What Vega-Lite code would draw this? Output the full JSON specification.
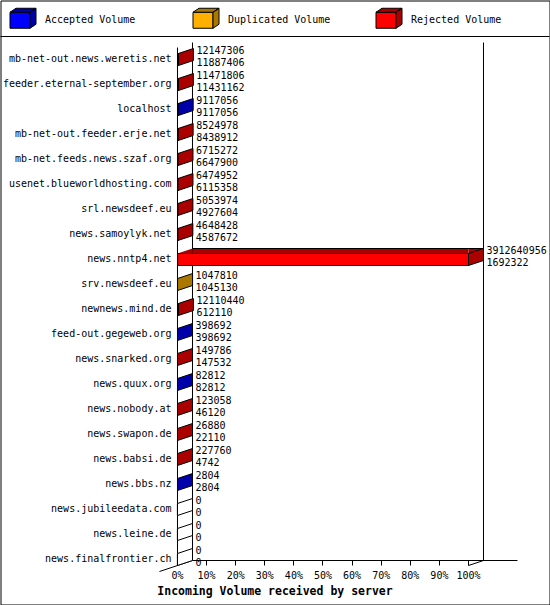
{
  "$schema": "https://vega.github.io/schema/vega-lite/v6.json",
  "width": 549,
  "height": 604,
  "padding": 0.5,
  "autosize": {"type": "none"},
  "background": "white",
  "config": {
    "view": {"stroke": "black", "strokeWidth": 1, "fill": "white"},
    "font": "DejaVu Sans Mono",
    "legend": {
      "orient": "none",
      "legendX": 9,
      "legendY": 9,
      "direction": "horizontal",
      "columns": 3,
      "gridAlign": "all",
      "columnPadding": 43,
      "padding": 0,
      "symbolSize": 400,
      "symbolStrokeColor": "black",
      "symbolStrokeWidth": 1,
      "labelFont": "DejaVu Sans Mono",
      "labelFontSize": 10,
      "labelColor": "black",
      "labelOffset": 14.5,
      "labelLimit": 0
    }
  },
  "layer": [
    {
      "data": {"values": [{}]},
      "mark": {"type": "rule", "color": "black", "yOffset": -23},
      "encoding": {
        "y": {"datum": "mb-net-out.news.weretis.net", "type": "nominal"}
      }
    },
    {
      "data": {"values": [{}]},
      "mark": {"type": "rule", "color": "black", "yOffset": -12, "y2Offset": 6},
      "encoding": {
        "x": {"datum": 0, "type": "quantitative"},
        "y": {"datum": "mb-net-out.news.weretis.net", "type": "nominal"},
        "y2": {"datum": "news.finalfrontier.ch"}
      }
    },
    {
      "data": {"values": [{}]},
      "mark": {"type": "rule", "color": "black", "xOffset": 15, "yOffset": -17, "y2Offset": 1},
      "encoding": {
        "x": {"datum": 0, "type": "quantitative"},
        "y": {"datum": "mb-net-out.news.weretis.net", "type": "nominal"},
        "y2": {"datum": "news.finalfrontier.ch"}
      }
    },
    {
      "data": {"values": [{}]},
      "mark": {"type": "rule", "color": "black", "xOffset": 15, "yOffset": -17, "y2Offset": 1},
      "encoding": {
        "x": {"datum": 100, "type": "quantitative"},
        "y": {"datum": "mb-net-out.news.weretis.net", "type": "nominal"},
        "y2": {"datum": "news.finalfrontier.ch"}
      }
    },
    {
      "data": {"values": [{}]},
      "mark": {"type": "rule", "color": "black", "xOffset": 15, "x2Offset": 49, "yOffset": 1},
      "encoding": {
        "x": {"datum": 0, "type": "quantitative"},
        "x2": {"datum": 100},
        "y": {"datum": "news.finalfrontier.ch", "type": "nominal"}
      }
    },
    {
      "data": {"values": [{}]},
      "mark": {"type": "rule", "color": "black", "xOffset": -18, "x2Offset": 15, "yOffset": 12, "y2Offset": 1},
      "encoding": {
        "x": {"datum": 0, "type": "quantitative"},
        "x2": {"datum": 0},
        "y": {"datum": "news.finalfrontier.ch", "type": "nominal"},
        "y2": {"datum": "news.finalfrontier.ch"}
      }
    },
    {
      "data": {"values": [{}]},
      "mark": {"type": "rule", "color": "black", "x2Offset": 15, "yOffset": 6, "y2Offset": 1},
      "encoding": {
        "x": {"datum": 100, "type": "quantitative"},
        "x2": {"datum": 100},
        "y": {"datum": "news.finalfrontier.ch", "type": "nominal"},
        "y2": {"datum": "news.finalfrontier.ch"}
      }
    },
    {
      "data": {
        "values": [
          {"host": "mb-net-out.news.weretis.net", "total": 12147306, "accepted": 11887406, "duplicated": 0},
          {"host": "feeder.eternal-september.org", "total": 11471806, "accepted": 11431162, "duplicated": 0},
          {"host": "localhost", "total": 9117056, "accepted": 9117056, "duplicated": 0},
          {"host": "mb-net-out.feeder.erje.net", "total": 8524978, "accepted": 8438912, "duplicated": 0},
          {"host": "mb-net.feeds.news.szaf.org", "total": 6715272, "accepted": 6647900, "duplicated": 0},
          {"host": "usenet.blueworldhosting.com", "total": 6474952, "accepted": 6115358, "duplicated": 0},
          {"host": "srl.newsdeef.eu", "total": 5053974, "accepted": 4927604, "duplicated": 0},
          {"host": "news.samoylyk.net", "total": 4648428, "accepted": 4587672, "duplicated": 0},
          {"host": "news.nntp4.net", "total": 3912640956, "accepted": 1692322, "duplicated": 0},
          {"host": "srv.newsdeef.eu", "total": 1047810, "accepted": 1045130, "duplicated": 2680},
          {"host": "newnews.mind.de", "total": 12110440, "accepted": 612110, "duplicated": 0},
          {"host": "feed-out.gegeweb.org", "total": 398692, "accepted": 398692, "duplicated": 0},
          {"host": "news.snarked.org", "total": 149786, "accepted": 147532, "duplicated": 0},
          {"host": "news.quux.org", "total": 82812, "accepted": 82812, "duplicated": 0},
          {"host": "news.nobody.at", "total": 123058, "accepted": 46120, "duplicated": 0},
          {"host": "news.swapon.de", "total": 26880, "accepted": 22110, "duplicated": 0},
          {"host": "news.babsi.de", "total": 227760, "accepted": 4742, "duplicated": 0},
          {"host": "news.bbs.nz", "total": 2804, "accepted": 2804, "duplicated": 0},
          {"host": "news.jubileedata.com", "total": 0, "accepted": 0, "duplicated": 0},
          {"host": "news.leine.de", "total": 0, "accepted": 0, "duplicated": 0},
          {"host": "news.finalfrontier.ch", "total": 0, "accepted": 0, "duplicated": 0}
        ]
      },
      "transform": [
        {"joinaggregate": [{"op": "max", "field": "total", "as": "maxTotal"}]},
        {"calculate": "datum.total - datum.accepted - datum.duplicated", "as": "rejected"},
        {"calculate": "100 * datum.total / datum.maxTotal", "as": "pct"},
        {"calculate": "datum.rejected > 0 ? 'rejected' : datum.duplicated > 0 ? 'duplicated' : datum.accepted > 0 ? 'accepted' : 'none'", "as": "last"}
      ],
      "layer": [
        {
          "transform": [
            {"fold": ["accepted", "duplicated", "rejected"], "as": ["type", "vol"]},
            {"calculate": "100 * datum.vol / datum.maxTotal", "as": "share"}
          ],
          "mark": {"type": "bar", "height": 12, "stroke": "black", "strokeWidth": 1, "opacity": 1},
          "encoding": {
            "y": {
              "field": "host",
              "type": "nominal",
              "sort": null,
              "scale": {
                "type": "band",
                "domain": [
                  "mb-net-out.news.weretis.net", "feeder.eternal-september.org", "localhost",
                  "mb-net-out.feeder.erje.net", "mb-net.feeds.news.szaf.org", "usenet.blueworldhosting.com",
                  "srl.newsdeef.eu", "news.samoylyk.net", "news.nntp4.net", "srv.newsdeef.eu",
                  "newnews.mind.de", "feed-out.gegeweb.org", "news.snarked.org", "news.quux.org",
                  "news.nobody.at", "news.swapon.de", "news.babsi.de", "news.bbs.nz",
                  "news.jubileedata.com", "news.leine.de", "news.finalfrontier.ch"
                ],
                "range": [46.5, 571.5],
                "paddingInner": 0,
                "paddingOuter": 0
              },
              "axis": {
                "title": null,
                "orient": "left",
                "offset": -177,
                "translate": 0,
                "domain": false,
                "ticks": false,
                "grid": false,
                "labelPadding": 6,
                "labelFont": "DejaVu Sans Mono",
                "labelFontSize": 10,
                "labelColor": "black",
                "labelLimit": 0
              }
            },
            "x": {
              "field": "share",
              "type": "quantitative",
              "stack": "zero",
              "scale": {"domain": [-60.8247, 127.8351], "nice": false, "zero": false},
              "axis": {
                "title": "Incoming Volume received by server",
                "values": [0, 10, 20, 30, 40, 50, 60, 70, 80, 90, 100],
                "labelExpr": "datum.value + '%'",
                "domain": false,
                "grid": false,
                "ticks": true,
                "tickSize": 5,
                "tickColor": "black",
                "tickWidth": 1,
                "offset": -44,
                "translate": 0,
                "labelPadding": 5,
                "labelFont": "DejaVu Sans Mono",
                "labelFontSize": 10,
                "labelColor": "black",
                "labelFlush": false,
                "labelOverlap": false,
                "titleFont": "DejaVu Sans Mono",
                "titleFontSize": 11.5,
                "titleFontWeight": "bold",
                "titleColor": "black",
                "titleX": 274.5,
                "titleY": 31.5,
                "titleAlign": "center",
                "titleBaseline": "middle"
              }
            },
            "color": {
              "field": "type",
              "type": "nominal",
              "scale": {
                "domain": ["accepted", "duplicated", "rejected"],
                "range": ["#0000ff", "#ffb000", "#ff0000"]
              },
              "legend": {
                "title": null,
                "symbolType": "M-1,-0.8H1V0.8H-1Z",
                "labelExpr": "datum.label == 'accepted' ? 'Accepted Volume' : datum.label == 'duplicated' ? 'Duplicated Volume' : 'Rejected Volume'"
              }
            }
          }
        },
        {
          "transform": [{"filter": "datum.pct > 10"}],
          "mark": {"type": "bar", "height": 5, "yOffset": -8.5, "x2Offset": 15, "strokeWidth": 0, "opacity": 1},
          "encoding": {
            "y": {"field": "host", "type": "nominal"},
            "x": {"field": "pct", "type": "quantitative"},
            "x2": {"datum": 0},
            "fill": {"field": "last", "type": "nominal"}
          }
        },
        {
          "transform": [{"filter": "datum.pct > 10"}],
          "mark": {"type": "point", "shape": "M0,-6L15,-6L15,-11Z", "size": 4, "filled": true, "strokeWidth": 0, "opacity": 1},
          "encoding": {
            "y": {"field": "host", "type": "nominal"},
            "x": {"datum": 0, "type": "quantitative"},
            "fill": {"field": "last", "type": "nominal"}
          }
        },
        {
          "transform": [{"filter": "datum.pct > 10"}],
          "mark": {"type": "point", "shape": "M0,-6L15,-11L0,-11Z", "size": 4, "filled": true, "strokeWidth": 0, "opacity": 1},
          "encoding": {
            "y": {"field": "host", "type": "nominal"},
            "x": {"field": "pct", "type": "quantitative"},
            "fill": {"field": "last", "type": "nominal"}
          }
        },
        {
          "transform": [{"filter": "datum.pct > 10"}],
          "mark": {"type": "rule", "color": "black", "xOffset": 15, "x2Offset": 15, "yOffset": -11},
          "encoding": {
            "y": {"field": "host", "type": "nominal"},
            "x": {"field": "pct", "type": "quantitative"},
            "x2": {"datum": 0}
          }
        },
        {
          "mark": {"type": "point", "shape": "M0,-6L15,-11L15,1L0,6Z", "size": 4, "filled": true, "stroke": "black", "strokeWidth": 1, "opacity": 1},
          "encoding": {
            "y": {"field": "host", "type": "nominal"},
            "x": {"field": "pct", "type": "quantitative"},
            "fill": {
              "field": "last",
              "type": "nominal",
              "scale": {
                "domain": ["accepted", "duplicated", "rejected", "none"],
                "range": ["#0000aa", "#aa7800", "#aa0000", "#ffffff"]
              },
              "legend": {
                "title": null,
                "values": ["accepted", "duplicated", "rejected"],
                "symbolType": "M1,-0.8L1.6,-1.2L1.6,0.4L1,0.8Z M-1,-0.8L-0.4,-1.2L1.6,-1.2L1,-0.8Z",
                "labelOpacity": 0,
                "labelExpr": "datum.label == 'accepted' ? 'Accepted Volume' : datum.label == 'duplicated' ? 'Duplicated Volume' : 'Rejected Volume'"
              }
            }
          }
        },
        {
          "mark": {"type": "text", "align": "left", "baseline": "middle", "dx": 18, "dy": -9, "font": "DejaVu Sans Mono", "fontSize": 10, "color": "black"},
          "encoding": {
            "y": {"field": "host", "type": "nominal"},
            "x": {"field": "pct", "type": "quantitative"},
            "text": {"field": "total", "type": "quantitative", "format": "d"}
          }
        },
        {
          "mark": {"type": "text", "align": "left", "baseline": "middle", "dx": 18, "dy": 3, "font": "DejaVu Sans Mono", "fontSize": 10, "color": "black"},
          "encoding": {
            "y": {"field": "host", "type": "nominal"},
            "x": {"field": "pct", "type": "quantitative"},
            "text": {"field": "accepted", "type": "quantitative", "format": "d"}
          }
        }
      ]
    }
  ]
}
